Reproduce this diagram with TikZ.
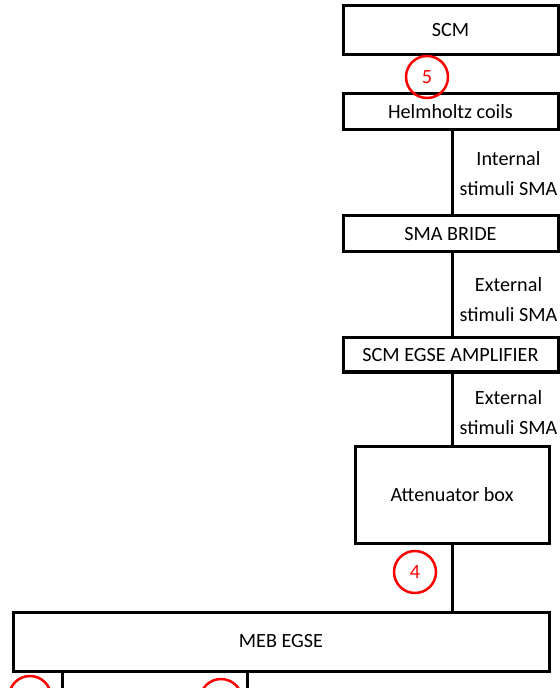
\documentclass[tikz,border=0pt]{standalone}
\usepackage{fontspec}
\setmainfont{Carlito}
\usepackage{tikz}
\usetikzlibrary{positioning,calc}
\tikzset{
  unit/.style={rectangle, draw=black, line width=1.5pt, fill=white, inner sep=0pt,
               text centered, font=\fontsize{10.1}{15}\selectfont},
  wire/.style={draw, line width=1.5pt},
  tag/.style={circle, draw=red, line width=1.25pt, minimum size=21pt, inner sep=0pt,
              text=red, font=\fontsize{10.1}{12}\selectfont},
  sig/.style={align=center, font=\fontsize{10.1}{15}\selectfont}
}

\begin{document}
\begin{tikzpicture}[x=0.5pt,y=-0.5pt]
    \useasboundingbox (0,0) rectangle (560,688);
    % Draw the chain of boxes
    \node (scm)  [unit, minimum width=107.5pt, minimum height=24.5pt] at (450.5,30.5) {SCM};
    \node (helm) [unit, minimum width=107.5pt, minimum height=18pt] at (450.5,112) {Helmholtz coils};
    \node (bride)[unit, minimum width=107.5pt, minimum height=18pt] at (450.5,234) {SMA BRIDE};
    \node (amp)  [unit, minimum width=107.5pt, minimum height=17pt] at (450.5,355) {SCM EGSE AMPLIFIER};
    \node (att)  [unit, minimum width=97pt, minimum height=48.5pt] at (452,494.5) {Attenuator box};
    \node (meb)  [unit, minimum width=268pt, minimum height=29.5pt] at (281,641.5) {MEB EGSE};
    % Draw the cables
    \coordinate (trunk) at (452,0);
    \coordinate (outA) at (62,688);
    \coordinate (outB) at (247,688);
    \draw [wire] (helm.south -| trunk) -- (bride.north -| trunk);
    \draw [wire] (bride.south -| trunk) -- (amp.north -| trunk);
    \draw [wire] (amp.south -| trunk) -- (att.north -| trunk);
    \draw [wire] (att.south -| trunk) -- (meb.north -| trunk);
    \draw [wire] (meb.south -| outA) -- (outA);
    \draw [wire] (meb.south -| outB) -- (outB);
    % Cable labels
    \node (sigint) [sig] at (508.5,174) {Internal\\stimuli SMA};
    \node (sigext) [sig] at (508.5,300) {External\\stimuli SMA};
    \node (sigatt) [sig] at (508.5,413) {External\\stimuli SMA};
    % Red markers
    \node (tagfive) [tag] at (427,77) {5};
    \node (tagfour) [tag] at (415,572) {4};
    \node (tagA) [tag] at (30,697) {};
    \node (tagB) [tag] at (221,700) {};
\end{tikzpicture}
\end{document}
